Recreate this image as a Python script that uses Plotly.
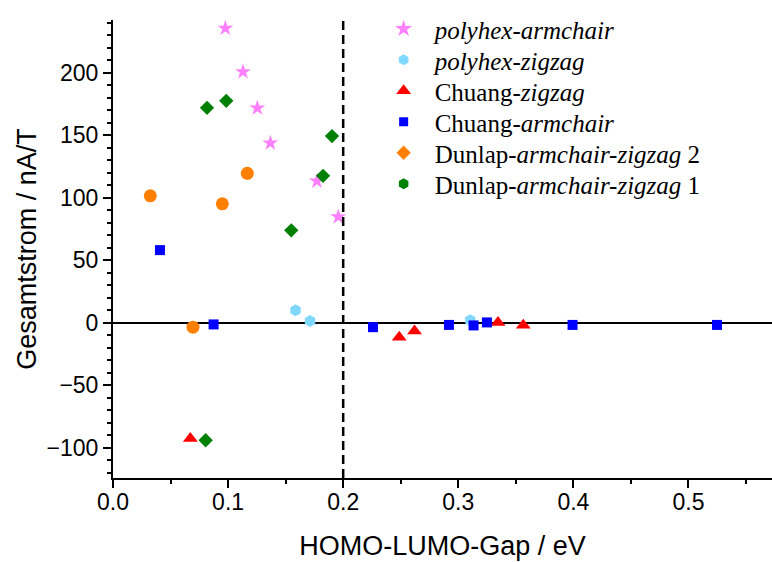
import plotly.graph_objects as go

# ---- data ----
polyhex_arm_x = [0.0976, 0.1129, 0.1254, 0.1367, 0.1772, 0.1957]
polyhex_arm_y = [235.4, 200.6, 171.6, 143.6, 113.2, 84.6]

polyhex_zig_x = [0.1586, 0.1712, 0.3104]
polyhex_zig_y = [10.0, 1.4, 2.0]

chuang_zig_x = [0.0672, 0.2487, 0.2620, 0.3345, 0.3565]
chuang_zig_y = [-92.6, -11.6, -6.6, 0.2, -2.0]

chuang_arm_x = [0.0408, 0.0874, 0.2259, 0.2919, 0.3133, 0.3249, 0.3993, 0.5248]
chuang_arm_y = [58.0, -1.4, -3.6, -1.8, -2.2, 0.2, -1.8, -1.8]

dunlap2_x = [0.0324, 0.0950, 0.1167, 0.0695]
dunlap2_y = [101.4, 95.0, 119.4, -3.6]

dunlap1_x = [0.0817, 0.0984, 0.1903, 0.1825, 0.1549, 0.0805]
dunlap1_y = [171.8, 177.4, 149.2, 117.4, 73.8, -94.0]

names = [
    "<i>polyhex-armchair</i>",
    "<i>polyhex-zigzag</i>",
    "Chuang-<i>zigzag</i>",
    "Chuang-<i>armchair</i>",
    "Dunlap-<i>armchair-zigzag</i> 2",
    "Dunlap-<i>armchair-zigzag</i> 1",
]

x_ticks = [0.0, 0.1, 0.2, 0.3, 0.4, 0.5]
y_ticks = [-100, -50, 0, 50, 100, 150, 200]

series = [
    (polyhex_arm_x, polyhex_arm_y, "star", 12, "#FF80FF"),
    (polyhex_zig_x, polyhex_zig_y, "hexagon", 12, "#80D8FF"),
    (chuang_zig_x, chuang_zig_y, "triangle-up", 13, "#FF0000"),
    (chuang_arm_x, chuang_arm_y, "square", 10, "#0000FF"),
    (dunlap2_x, dunlap2_y, "circle", 13, "#FF8000"),
    (dunlap1_x, dunlap1_y, "diamond", 11, "#008000"),
]
# legend symbols as shown in the reference legend
legend_symbols = ["star", "hexagon", "triangle-up", "square", "diamond", "hexagon"]
legend_sizes = [13, 11, 13, 9, 11, 11]

fig = go.Figure()
for (xs, ys, sym, size, col) in series:
    fig.add_trace(go.Scatter(
        x=xs, y=ys, mode="markers", showlegend=False,
        marker=dict(symbol=sym, size=size, color=col, line=dict(width=0)),
    ))

W, H = 772, 562
plot_top, plot_bottom = 20, 478
row_px = [29, 60, 91, 122, 153, 184]
legend_layout = {}
for i, (name, sym, lsz, s) in enumerate(zip(names, legend_symbols, legend_sizes, series)):
    key = "legend" if i == 0 else f"legend{i+1}"
    fig.add_trace(go.Scatter(
        x=[None], y=[None], mode="markers", name=name, legend=key,
        marker=dict(symbol=sym, size=lsz, color=s[4], line=dict(width=0)),
    ))
    ypaper = (plot_bottom - row_px[i]) / (plot_bottom - plot_top)
    legend_layout[key] = dict(
        x=0.394, xanchor="left", y=ypaper, yanchor="middle",
        font=dict(family="Liberation Serif, Times New Roman, serif", size=25, color="black"),
        bgcolor="rgba(0,0,0,0)", borderwidth=0, itemwidth=52,
        itemsizing="trace",
    )

fig.add_shape(type="line", xref="x", yref="paper", x0=0.2, x1=0.2, y0=0, y1=1,
              line=dict(color="black", width=2.5, dash="9px,5px"))

axis_font = dict(family="Liberation Sans, Arial, sans-serif", size=23, color="black")
fig.update_layout(
    width=W, height=H,
    margin=dict(l=113, r=0, t=plot_top, b=H - plot_bottom, autoexpand=False),
    paper_bgcolor="white", plot_bgcolor="white",
    font=dict(family="Liberation Sans, Arial, sans-serif", color="black"),
    **legend_layout,
)
fig.update_xaxes(
    range=[0, 0.5726], tickvals=x_ticks, ticktext=[f"{v:.1f}" for v in x_ticks],
    ticks="outside", ticklen=8, tickwidth=2, tickcolor="black",
    minor=dict(dtick=0.05, tick0=0, ticks="outside", ticklen=4, tickwidth=1.5, tickcolor="black", showgrid=False),
    showline=True, linecolor="black", linewidth=2, showgrid=False, zeroline=False,
    tickfont=axis_font, ticklabelstandoff=-6,
    title=dict(text="HOMO-LUMO-Gap / eV", font=dict(family="Liberation Sans, Arial, sans-serif", size=27, color="black"), standoff=23),
    automargin=False,
)
fig.update_yaxes(
    range=[-124.2, 242], tickvals=y_ticks,
    ticks="outside", ticklen=8, tickwidth=2, tickcolor="black",
    minor=dict(dtick=10, tick0=0, ticks="outside", ticklen=4, tickwidth=1.5, tickcolor="black", showgrid=False),
    showline=True, linecolor="black", linewidth=2, showgrid=False,
    zeroline=True, zerolinecolor="black", zerolinewidth=1.5,
    tickfont=axis_font,
    title=dict(text="Gesamtstrom / nA/T", font=dict(family="Liberation Sans, Arial, sans-serif", size=27, color="black"), standoff=2),
    automargin=False,
)

# remove the default page margin so the figure fills the window exactly
fig.write_html(
    "out.html",
    config={"displayModeBar": False},
    post_script="document.body.style.margin='0';document.body.style.overflow='hidden';",
)
